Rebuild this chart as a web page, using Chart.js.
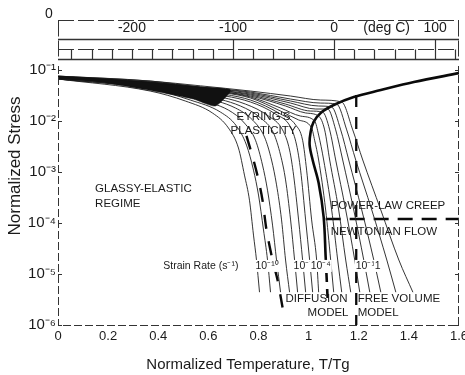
<!DOCTYPE html>
<html><head><meta charset="utf-8">
<script src="https://cdn.jsdelivr.net/npm/chart.js@4/dist/chart.umd.min.js"></script>
<style>html,body{margin:0;padding:0;background:#fff}#wrap{width:465px;height:375px}</style>
</head><body><div id="wrap"><canvas id="c" width="465" height="375"></canvas></div>
<script>
const FONT = "'Liberation Sans', Arial, Helvetica, sans-serif";

// ---- axes ----
const xTicks = [0, 0.2, 0.4, 0.6, 0.8, 1.0, 1.2, 1.4, 1.6];
const xTickLabels = ["0", "0.2", "0.4", "0.6", "0.8", "1", "1.2", "1.4", "1.6"];
const yTicks = [1e-6, 1e-5, 1e-4, 1e-3, 1e-2, 1e-1];
const yTickLabels = ["10\u207B\u2076", "10\u207B\u2075", "10\u207B\u2074", "10\u207B\u00B3", "10\u207B\u00B2", "10\u207B\u00B9"];

// ---- top temperature scale (deg C), Tg in kelvin ----
const TG_K = 248;
const tempLabelsC = [-200, -100, 0, 100];
const tempMajorC = [-100, 0, 100];
const tempMinorC = [-260, -240, -220, -200, -180, -160, -140, -120, -100, -80, -60, -40, -20, 0, 20, 40, 60, 80, 100, 120];

// ---- dense overlapping region of the strain-rate curves (glassy envelope) ----
const envelopeBand = [[0,7.6e-2],[0.168,6.8e-2],[0.38,5.69e-2],[0.568,4.64e-2],[0.688,4.05e-2],[0.628,1.97e-2],[0.54,2.7e-2],[0.38,3.87e-2],[0.168,5.8e-2],[0,6.67e-2]];

// ---- strain-rate curves bending before the plasticity boundary (low rates) ----
const rateE1 = [[0,6.67e-2],[0.368,3.87e-2],[0.508,2.47e-2],[0.616,1.44e-2],[0.68,7.3e-3],[0.72,2.96e-3],[0.744,8.7e-4],[0.764,2.8e-4],[0.78,5.8e-5],[0.792,1.88e-5],[0.804,4.4e-6]];
const rateE2 = [[0,6.67e-2],[0.368,4.24e-2],[0.528,2.58e-2],[0.648,1.5e-2],[0.712,8.0e-3],[0.752,3.38e-3],[0.78,1.09e-3],[0.80,3.54e-4],[0.82,7.3e-5],[0.836,1.88e-5],[0.848,4.4e-6]];
const rateE3 = [[0,6.67e-2],[0.368,4.4e-2],[0.548,2.7e-2],[0.68,1.64e-2],[0.744,9.1e-3],[0.788,4.2e-3],[0.816,1.37e-3],[0.836,4.4e-4],[0.856,9.1e-5],[0.872,1.88e-5],[0.888,4.4e-6]];
const rateE4 = [[0,7.0e-2],[0.368,4.64e-2],[0.568,2.96e-2],[0.708,1.8e-2],[0.776,1.05e-2],[0.824,4.85e-3],[0.852,1.72e-3],[0.872,5.6e-4],[0.892,1.15e-4],[0.908,1.88e-5],[0.924,4.4e-6]];
const rateE5 = [[0,7.0e-2],[0.368,4.9e-2],[0.568,3.24e-2],[0.728,1.97e-2],[0.808,1.15e-2],[0.86,5.8e-3],[0.888,2.15e-3],[0.908,7.0e-4],[0.928,1.15e-4],[0.944,1.88e-5],[0.956,4.4e-6]];
const rateE6 = [[0,7.0e-2],[0.368,5.1e-2],[0.568,3.54e-2],[0.748,2.15e-2],[0.84,1.25e-2],[0.896,6.7e-3],[0.924,2.7e-3],[0.94,8.7e-4],[0.96,1.15e-4],[0.976,1.88e-5],[0.988,4.4e-6]];
const rateE7 = [[0,7.0e-2],[0.368,5.3e-2],[0.568,3.7e-2],[0.768,2.36e-2],[0.868,1.37e-2],[0.928,7.6e-3],[0.952,3.38e-3],[0.968,1.09e-3],[0.988,1.15e-4],[1.004,1.88e-5],[1.016,4.4e-6]];
const rateE8 = [[0,7.0e-2],[0.368,5.3e-2],[0.568,3.87e-2],[0.768,2.58e-2],[0.888,1.37e-2],[0.948,8.4e-3],[0.976,4.2e-3],[0.992,1.09e-3],[1.012,1.15e-4],[1.032,1.88e-5],[1.04,4.4e-6]];

// ---- strain-rate curves crossing into power-law creep (high rates) ----
const rateP1 = [[0,7.0e-2],[0.368,5.56e-2],[0.568,4.05e-2],[0.768,2.83e-2],[0.888,1.57e-2],[0.96,1.05e-2],[1.012,7.3e-3],[1.024,4.2e-3],[1.04,1.72e-3],[1.068,1.8e-4],[1.088,1.88e-5],[1.1,4.4e-6]];
const rateP2 = [[0,7.3e-2],[0.368,5.56e-2],[0.568,4.24e-2],[0.768,2.96e-2],[0.888,1.8e-2],[0.968,1.25e-2],[1.024,1.0e-2],[1.04,5.3e-3],[1.06,1.72e-3],[1.092,1.8e-4],[1.116,1.88e-5],[1.132,4.4e-6]];
const rateP3 = [[0,7.3e-2],[0.368,5.56e-2],[0.568,4.24e-2],[0.768,3.09e-2],[0.908,1.97e-2],[0.988,1.44e-2],[1.04,1.25e-2],[1.064,6.7e-3],[1.084,1.72e-3],[1.12,1.8e-4],[1.148,1.88e-5],[1.168,4.4e-6]];
const rateP4 = [[0,7.3e-2],[0.368,5.8e-2],[0.568,4.4e-2],[0.768,3.24e-2],[0.908,2.15e-2],[1.008,1.57e-2],[1.056,1.5e-2],[1.084,6.7e-3],[1.108,1.72e-3],[1.148,1.8e-4],[1.184,1.88e-5],[1.204,4.4e-6]];
const rateP5 = [[0,7.3e-2],[0.368,5.8e-2],[0.568,4.4e-2],[0.768,3.38e-2],[0.928,2.25e-2],[1.028,1.72e-2],[1.076,1.72e-2],[1.108,6.7e-3],[1.136,1.72e-3],[1.18,1.8e-4],[1.22,1.88e-5],[1.244,4.4e-6]];
const rateP6 = [[0,7.3e-2],[0.368,5.8e-2],[0.568,4.64e-2],[0.768,3.54e-2],[0.928,2.47e-2],[1.04,1.97e-2],[1.092,1.88e-2],[1.128,6.7e-3],[1.16,1.72e-3],[1.212,1.8e-4],[1.26,1.88e-5],[1.288,4.4e-6]];
const rateP7 = [[0,7.6e-2],[0.368,6.08e-2],[0.568,4.64e-2],[0.768,3.7e-2],[0.928,2.7e-2],[1.048,2.25e-2],[1.112,2.15e-2],[1.152,6.7e-3],[1.188,1.72e-3],[1.252,1.8e-4],[1.312,1.88e-5],[1.348,4.4e-6]];
const rateP8 = [[0,7.6e-2],[0.368,6.08e-2],[0.568,4.9e-2],[0.768,3.87e-2],[0.928,3.09e-2],[1.048,2.58e-2],[1.132,2.36e-2],[1.176,6.7e-3],[1.216,1.72e-3],[1.288,1.8e-4],[1.36,1.88e-5],[1.416,4.4e-6]];

// ---- mechanism boundaries ----
const plasticityBoundary = [[1.6,8.7e-2],[1.42,5.8e-2],[1.288,4.05e-2],[1.18,2.96e-2],[1.10,2.06e-2],[1.048,1.44e-2],[1.02,9.6e-3],[1.008,6.1e-3],[1.004,3.4e-3],[1.016,1.72e-3],[1.04,6.1e-4],[1.06,1.31e-4],[1.068,2.15e-5]];
const plasticityTail = [[1.068,2.15e-5],[1.076,3.1e-6]];
const freeVolumeBoundary = [[1.19,3.24e-2],[1.19,1e-6]];
const newtonianBoundary = [[1.068,1.2e-4],[1.6,1.2e-4]];
const diffusionBoundary = [[0.752,5.1e-3],[0.78,1.72e-3],[0.80,7.0e-4],[0.816,2.8e-4],[0.832,7.3e-5],[0.856,1.88e-5],[0.876,7.6e-6],[0.896,2.2e-6]];

// ---- text annotations (placed in data coordinates) ----
const regionLabels = [
  {t:"GLASSY-ELASTIC", x:0.148, y:4.6e-4, a:"left"},
  {t:"REGIME", x:0.148, y:2.36e-4, a:"left"},
  {t:"EYRING'S", x:0.82, y:1.2e-2, a:"center"},
  {t:"PLASTICITY", x:0.82, y:6.4e-3, a:"center"},
  {t:"POWER-LAW CREEP", x:1.088, y:2.15e-4, a:"left"},
  {t:"NEWTONIAN FLOW", x:1.088, y:6.7e-5, a:"left"},
  {t:"DIFFUSION", x:0.908, y:3.24e-6, a:"left"},
  {t:"MODEL", x:0.996, y:1.72e-6, a:"left"},
  {t:"FREE VOLUME", x:1.196, y:3.24e-6, a:"left"},
  {t:"MODEL", x:1.196, y:1.72e-6, a:"left"}
];
const strainRateLabels = [
  {t:"Strain Rate (s\u207B\u00B9)", x:0.42, y:1.44e-5},
  {t:"10\u207B\u00B9\u2070", x:0.788, y:1.44e-5},
  {t:"10\u207B\u2077", x:0.94, y:1.44e-5},
  {t:"10\u207B\u2074", x:1.008, y:1.44e-5},
  {t:"10\u207B\u00B9", x:1.188, y:1.44e-5},
  {t:"1", x:1.264, y:1.44e-5}
];

const toXY = arr => arr.map(p => ({x: p[0], y: p[1]}));
const thin = (arr) => ({data: toXY(arr), borderColor: '#1e1e1e', borderWidth: 0.9, pointRadius: 0, fill: false, cubicInterpolationMode: 'monotone'});

const rateCurves = [rateE1, rateE2, rateE3, rateE4, rateE5, rateE6, rateE7, rateE8, rateP1, rateP2, rateP3, rateP4, rateP5, rateP6, rateP7, rateP8];

const datasets = [
  {data: toXY(envelopeBand), borderColor: '#111', backgroundColor: '#111', borderWidth: 0.5, pointRadius: 0, fill: 'shape', tension: 0.2},
  ...rateCurves.map(thin),
  {data: toXY(plasticityBoundary), borderColor: '#0a0a0a', borderWidth: 2.6, pointRadius: 0, fill: false, tension: 0.35},
  {data: toXY(plasticityTail), borderColor: '#0a0a0a', borderWidth: 2.6, pointRadius: 0, fill: false, borderDash: [9, 7]},
  {data: toXY(freeVolumeBoundary), borderColor: '#0a0a0a', borderWidth: 2.3, pointRadius: 0, fill: false, borderDash: [12, 10]},
  {data: toXY(newtonianBoundary), borderColor: '#0a0a0a', borderWidth: 2.3, pointRadius: 0, fill: false, borderDash: [15, 9]},
  {data: toXY(diffusionBoundary), borderColor: '#0a0a0a', borderWidth: 2.4, pointRadius: 0, fill: false, borderDash: [14, 13], tension: 0.3}
];

const deco = {
  id: 'deco',
  afterDraw(chart) {
    const {ctx, chartArea: a, scales: {x, y}} = chart;
    ctx.save();
    ctx.strokeStyle = '#333';
    ctx.lineWidth = 1;
    // axes frame (left, bottom, right)
    ctx.setLineDash([8, 3]);
    ctx.beginPath();
    ctx.moveTo(a.left + 0.5, a.top); ctx.lineTo(a.left + 0.5, a.bottom + 0.5);
    ctx.lineTo(a.right - 0.5, a.bottom + 0.5); ctx.lineTo(a.right - 0.5, a.top);
    ctx.stroke();
    ctx.setLineDash([]);
    // inward decade ticks
    ctx.beginPath();
    yTicks.forEach(v => {
      const py = Math.round(y.getPixelForValue(v)) + 0.5;
      ctx.moveTo(a.left, py); ctx.lineTo(a.left + 4, py);
      ctx.moveTo(a.right, py); ctx.lineTo(a.right - 4, py);
    });
    ctx.stroke();

    // top temperature scale box
    const tx = c => x.getPixelForValue((c + 273.15) / TG_K);
    const L = a.left, R = a.right;
    const yTop = 20.5, yMid1 = 39.5, yMid2 = 49.5, yBot = 59.5;
    ctx.lineWidth = 1;
    ctx.setLineDash([16, 4]);
    ctx.beginPath();
    ctx.moveTo(L, yTop); ctx.lineTo(R, yTop);
    ctx.moveTo(L + 0.5, yTop); ctx.lineTo(L + 0.5, yBot);
    ctx.moveTo(R - 0.5, yTop); ctx.lineTo(R - 0.5, yBot);
    ctx.moveTo(L, yMid2); ctx.lineTo(R, yMid2);
    ctx.stroke();
    ctx.setLineDash([]);
    ctx.lineWidth = 1.3;
    ctx.beginPath();
    ctx.moveTo(L, yMid1); ctx.lineTo(R, yMid1);
    ctx.moveTo(L, yBot); ctx.lineTo(R, yBot);
    ctx.stroke();
    ctx.lineWidth = 1.2;
    ctx.beginPath();
    tempMinorC.forEach(c => { const px = Math.round(tx(c)) + 0.5; ctx.moveTo(px, yMid2); ctx.lineTo(px, yBot); });
    tempMajorC.forEach(c => { const px = Math.round(tx(c)) + 0.5; ctx.moveTo(px, yMid1); ctx.lineTo(px, yBot); });
    ctx.stroke();

    ctx.fillStyle = '#1a1a1a';
    ctx.font = '14px ' + FONT;
    ctx.textBaseline = 'middle';
    ctx.textAlign = 'center';
    tempLabelsC.forEach(c => ctx.fillText(String(c), tx(c), 28));
    ctx.fillText('(deg C)', tx(52), 28);
    ctx.fillText('0', L - 9, 14);

    // axis titles
    ctx.font = '15px ' + FONT;
    ctx.fillText('Normalized Temperature, T/Tg', 248, 365);
    ctx.save();
    ctx.translate(15, 166);
    ctx.rotate(-Math.PI / 2);
    ctx.font = '17px ' + FONT;
    ctx.fillText('Normalized Stress', 0, 0);
    ctx.restore();

    // region labels
    ctx.font = '11.5px ' + FONT;
    regionLabels.forEach(l => {
      ctx.textAlign = l.a;
      ctx.fillText(l.t, x.getPixelForValue(l.x), y.getPixelForValue(l.y));
    });
    // strain rate labels with white knock-out
    ctx.font = '10.5px ' + FONT;
    ctx.textAlign = 'left';
    strainRateLabels.forEach(l => {
      const px = x.getPixelForValue(l.x), py = y.getPixelForValue(l.y);
      const w = ctx.measureText(l.t).width;
      ctx.fillStyle = '#fff';
      ctx.fillRect(px - 1, py - 6, w + 2, 12);
      ctx.fillStyle = '#1a1a1a';
      ctx.fillText(l.t, px, py);
    });
    ctx.restore();
  }
};

new Chart(document.getElementById('c'), {
  type: 'line',
  data: {datasets},
  plugins: [deco],
  options: {
    responsive: false,
    animation: false,
    devicePixelRatio: 1,
    layout: {padding: {top: 66, right: 6, left: 0, bottom: 0}},
    plugins: {legend: {display: false}, tooltip: {enabled: false}},
    elements: {line: {capBezierPoints: true}},
    scales: {
      x: {
        type: 'linear', min: 0, max: 1.6,
        grid: {display: false, drawTicks: false}, border: {display: false},
        afterBuildTicks: s => { s.ticks = xTicks.map(v => ({value: v})); },
        afterFit: s => { s.height = 50; s.paddingLeft = 0; s.paddingRight = 0; },
        ticks: {autoSkip: false, maxRotation: 0, padding: 4, color: '#1a1a1a', font: {family: FONT, size: 13},
          callback: (v, i) => xTickLabels[i]}
      },
      y: {
        type: 'logarithmic', min: 1e-6, max: 0.12,
        grid: {display: false, drawTicks: false}, border: {display: false},
        afterBuildTicks: s => { s.ticks = yTicks.map(v => ({value: v})); },
        afterFit: s => { s.width = 58; s.paddingTop = 0; s.paddingBottom = 0; },
        ticks: {autoSkip: false, padding: 2, color: '#1a1a1a', font: {family: FONT, size: 15},
          callback: (v, i) => yTickLabels[i]}
      }
    }
  }
});
</script>
</body></html>
